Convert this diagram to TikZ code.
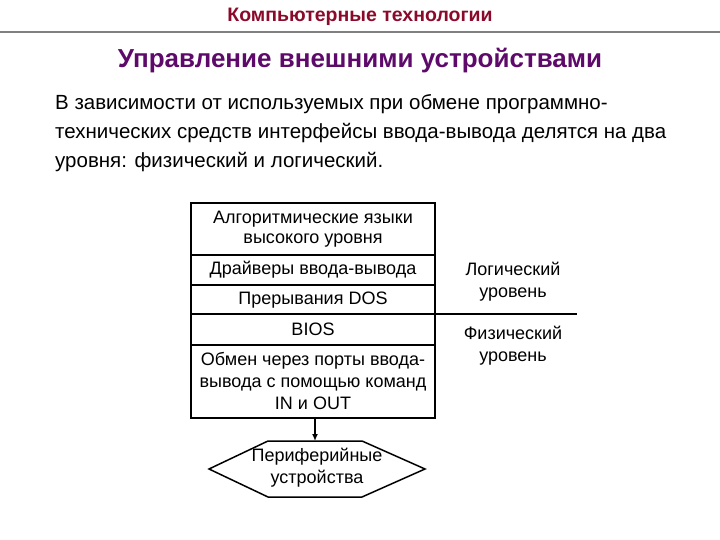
\documentclass[tikz,border=0pt]{standalone}
\usepackage{fontspec}
\setmainfont{Liberation Sans}
\usetikzlibrary{arrows.meta}
\begin{document}
\begin{tikzpicture}[x=1pt,y=-1pt,
  lbl/.style={align=center,font=\fontsize{18}{20}\selectfont,inner sep=0pt},
  box/.style={draw,line width=1.5pt}]
\useasboundingbox (0,0) rectangle (720,540);
\definecolor{hdr}{HTML}{8B0A2A}
\definecolor{ttl}{HTML}{5E0A6A}
\node[font=\bfseries\fontsize{19.5}{22}\selectfont,text=hdr,inner sep=0pt] (h) at (360,17) {Компьютерные технологии};
\draw[gray,line width=2.5pt] (0,32) -- (720,32);
\node[font=\bfseries\fontsize{26}{30}\selectfont,text=ttl,inner sep=0pt] (t) at (360,61) {Управление внешними устройствами};
\node[anchor=north west,align=left,inner sep=0pt,font=\fontsize{20.5}{29}\selectfont] (p) at (55,94)
 {В зависимости от используемых при обмене программно-\\технических средств интерфейсы ввода-вывода делятся на два\\уровня: физический и логический.};
\draw[box] (191,203) rectangle (435,418);
\draw[line width=1.5pt] (191,255) -- (435,255) (191,285) -- (435,285) (191,345) -- (435,345);
\coordinate (l1) at (191,314); \coordinate (l2) at (577,314);
\draw[line width=1.5pt] (l1) -- (l2);
\node[lbl] (a) at (313,229) {Алгоритмические языки\\высокого уровня};
\node[lbl] (b) at (313,270) {Драйверы ввода-вывода};
\node[lbl] (c) at (313,300) {Прерывания DOS};
\node[lbl] (d) at (313,329) {BIOS};
\node[lbl,font=\fontsize{18}{22}\selectfont] (e) at (313,381) {Обмен через порты ввода-\\вывода с помощью команд\\IN и OUT};
\node[lbl,font=\fontsize{18}{22}\selectfont] (lg) at (513,282) {Логический\\уровень};
\node[lbl,font=\fontsize{18}{22}\selectfont] (ph) at (513,346) {Физический\\уровень};
\draw[box] (209,469) -- (268,441) -- (362,441) -- (425,469) -- (362,497) -- (268,497) -- cycle;
\node[lbl,font=\fontsize{18}{22}\selectfont] (pf) at (317,468) {Периферийные\\устройства};
\coordinate (top) at (315,418); \coordinate (bot) at (315,441);
\draw[line width=1.5pt,-{Latex[length=7pt,width=6pt]}] (top) -- (bot);
\end{tikzpicture}
\end{document}
